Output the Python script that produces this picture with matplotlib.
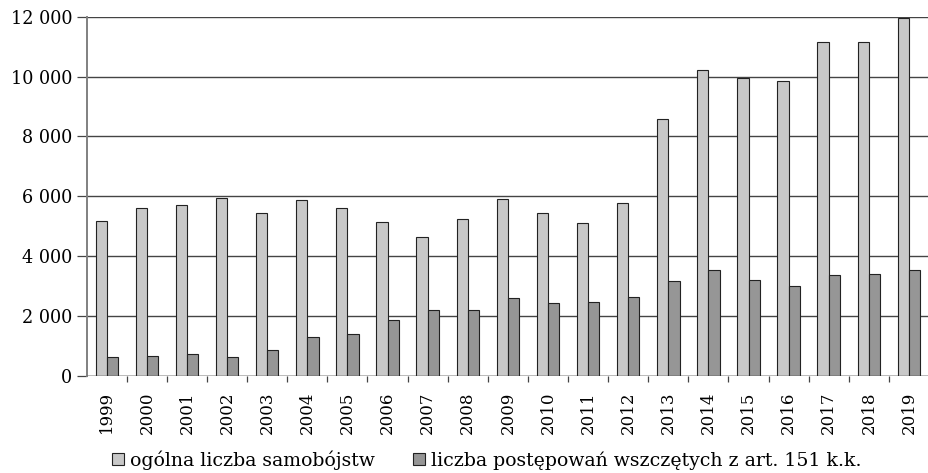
import numpy as np
import matplotlib
matplotlib.use("Agg")
import matplotlib.pyplot as plt
from matplotlib.ticker import FuncFormatter, FixedLocator

plt.rcParams['font.family'] = ['DejaVu Serif']

years = [str(y) for y in range(1999, 2020)]
samobojstwa = [5180, 5600, 5700, 5930, 5460, 5880, 5610, 5150, 4650, 5230,
               5900, 5450, 5110, 5790, 8600, 10210, 9960, 9860, 11150, 11170, 11960]
postepowania = [620, 670, 720, 620, 880, 1290, 1410, 1880, 2200, 2190,
                2600, 2440, 2460, 2630, 3180, 3530, 3190, 3020, 3380, 3400, 3540]

lab_ogolna = "ogólna liczba samobójstw"
lab_post = "liczba postępowań wszczętych z art. 151 k.k."

fig = plt.figure(figsize=(9.29, 4.73), dpi=100)
ax = fig.add_axes([86.7/929, 97/473, (929-86.7)/929, (376-16.7)/473])

x = np.arange(len(years))
w = 0.28
ax.bar(x - w/2, samobojstwa, w, color='#c8c8c8', edgecolor='#222222', linewidth=0.8,
       label=lab_ogolna, zorder=3)
ax.bar(x + w/2, postepowania, w, color='#969696', edgecolor='#222222', linewidth=0.8,
       label=lab_post, zorder=3)

ax.set_xlim(-0.5, len(years) - 0.5)
ax.set_ylim(0, 12000)
ax.set_yticks(np.arange(0, 12001, 2000))
ax.yaxis.set_major_formatter(FuncFormatter(lambda v, p: f"{int(v):,}".replace(",", " ")))
ax.yaxis.grid(True, color='#444444', linewidth=1.0, zorder=0)
ax.set_axisbelow(True)

ax.set_xticks(x)
ax.set_xticklabels(years, rotation=90)
ax.xaxis.set_minor_locator(FixedLocator(np.arange(0.5, len(years) - 0.5, 1)))
ax.tick_params(axis='x', which='major', length=0, pad=11, labelsize=12)
ax.tick_params(axis='x', which='minor', length=4, width=0.9, color='#444444', direction='out')
ax.tick_params(axis='y', length=7, width=0.9, color='#444444', pad=3.5, labelsize=12.7)

for s in ['top', 'right', 'bottom']:
    ax.spines[s].set_visible(False)
ax.spines['left'].set_color('#808080')
ax.spines['left'].set_linewidth(1.4)
ax.axhline(0, color='#444444', linewidth=1.0, zorder=4)

fig.legend(loc='center', bbox_to_anchor=(486.5/929, 1 - 460/473), ncol=2, frameon=False,
           fontsize=13.6, handlelength=0.65, handleheight=0.65, handletextpad=0.3,
           columnspacing=2.0, borderpad=0)

fig.savefig("out.png", dpi=100)
